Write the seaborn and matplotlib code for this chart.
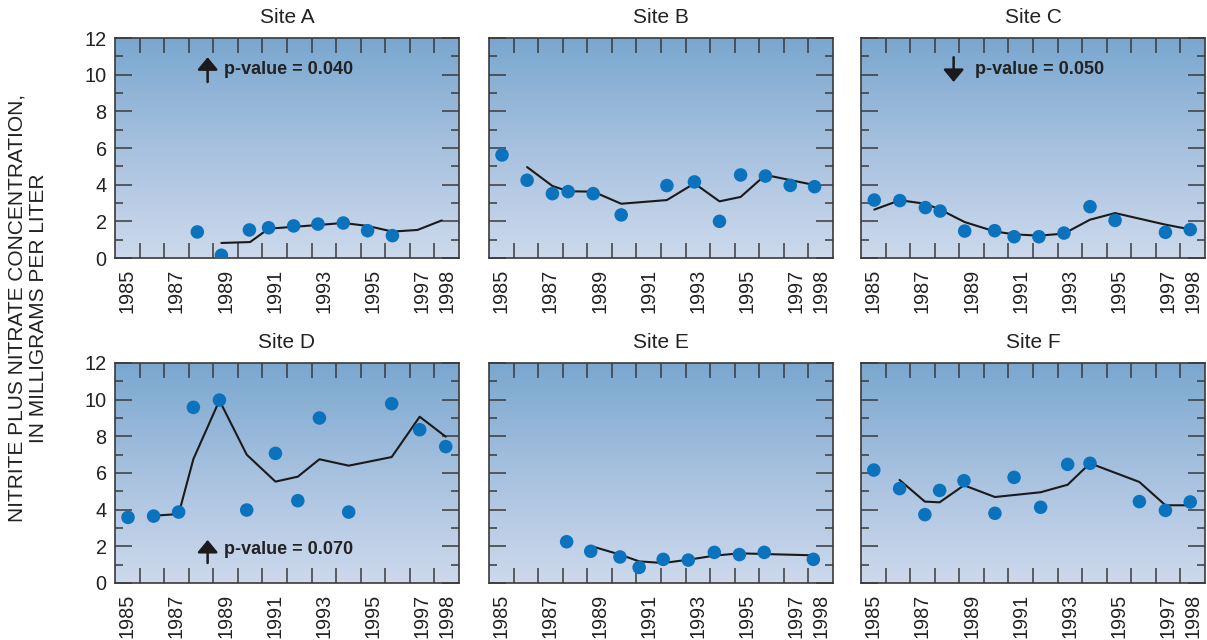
import numpy as np
import pandas as pd
import matplotlib
matplotlib.use("Agg")
import matplotlib.pyplot as plt
import seaborn as sns
from matplotlib.colors import LinearSegmentedColormap

sns.set_style("white")
plt.rcParams['font.family'] = ['Liberation Sans', 'DejaVu Sans']

# ---------------- data ----------------
sites = ["Site A", "Site B", "Site C", "Site D", "Site E", "Site F"]

a_pt_x = [1987.85, 1988.83, 1989.97, 1990.75, 1991.77, 1992.76, 1993.79, 1994.78, 1995.79]
a_pt_y = [1.42, 0.15, 1.53, 1.65, 1.75, 1.85, 1.91, 1.49, 1.22]
a_ln_x = [1988.83, 1990.0, 1990.75, 1991.77, 1992.76, 1993.79, 1994.78, 1995.79, 1996.81, 1997.8]
a_ln_y = [0.82, 0.87, 1.60, 1.70, 1.80, 1.91, 1.75, 1.44, 1.53, 2.05]

b_pt_x = [1985.03, 1986.05, 1987.08, 1987.72, 1988.74, 1989.88, 1991.74, 1992.86, 1993.88, 1994.74, 1995.75, 1996.76, 1997.75]
b_pt_y = [5.62, 4.24, 3.51, 3.62, 3.51, 2.35, 3.95, 4.15, 2.00, 4.53, 4.47, 3.96, 3.89]
b_ln_x = [1986.05, 1987.08, 1987.72, 1988.74, 1989.88, 1991.74, 1992.86, 1993.88, 1994.74, 1995.75, 1996.76, 1997.75]
b_ln_y = [4.96, 3.93, 3.64, 3.62, 2.96, 3.16, 4.07, 3.09, 3.33, 4.53, 4.25, 3.98]

c_pt_x = [1985.04, 1986.08, 1987.12, 1987.72, 1988.72, 1989.94, 1990.73, 1991.74, 1992.76, 1993.82, 1994.84, 1996.89, 1997.9]
c_pt_y = [3.16, 3.13, 2.75, 2.56, 1.47, 1.49, 1.16, 1.16, 1.36, 2.80, 2.05, 1.40, 1.55]
c_ln_x = [1985.04, 1986.08, 1987.12, 1987.72, 1988.72, 1989.94, 1990.73, 1991.74, 1992.76, 1993.82, 1994.84, 1996.89, 1997.9]
c_ln_y = [2.64, 3.15, 2.96, 2.64, 1.96, 1.45, 1.29, 1.22, 1.33, 2.09, 2.45, 1.82, 1.56]

d_pt_x = [1985.03, 1986.07, 1987.09, 1987.69, 1988.75, 1989.86, 1991.03, 1991.94, 1992.82, 1994.01, 1995.76, 1996.9, 1997.96]
d_pt_y = [3.58, 3.65, 3.87, 9.58, 9.98, 3.98, 7.07, 4.49, 9.00, 3.87, 9.78, 8.36, 7.44]
d_ln_x = [1986.07, 1987.09, 1987.69, 1988.75, 1989.86, 1991.03, 1991.94, 1992.82, 1994.01, 1995.76, 1996.9, 1997.96]
d_ln_y = [3.67, 3.76, 6.76, 9.96, 7.00, 5.53, 5.80, 6.75, 6.40, 6.87, 9.07, 7.98]

e_pt_x = [1987.66, 1988.64, 1989.83, 1990.61, 1991.59, 1992.61, 1993.67, 1994.69, 1995.7, 1997.7]
e_pt_y = [2.25, 1.73, 1.42, 0.85, 1.29, 1.25, 1.67, 1.55, 1.67, 1.29]
e_ln_x = [1988.64, 1989.83, 1990.61, 1991.59, 1992.61, 1993.67, 1994.69, 1995.7, 1997.7]
e_ln_y = [2.02, 1.55, 1.18, 1.09, 1.27, 1.49, 1.62, 1.58, 1.51]

f_pt_x = [1985.02, 1986.07, 1987.1, 1987.7, 1988.69, 1989.95, 1990.73, 1991.81, 1992.91, 1993.82, 1995.83, 1996.89, 1997.9]
f_pt_y = [6.16, 5.15, 3.73, 5.05, 5.58, 3.80, 5.76, 4.13, 6.47, 6.53, 4.44, 3.96, 4.42]
f_ln_x = [1986.07, 1987.1, 1987.7, 1988.69, 1989.95, 1991.81, 1992.91, 1993.82, 1995.83, 1996.89, 1997.9]
f_ln_y = [5.62, 4.44, 4.40, 5.33, 4.69, 4.95, 5.36, 6.53, 5.51, 4.24, 4.24]

year_labels = [1985, 1987, 1989, 1991, 1993, 1995, 1997, 1998]
y_ticks = [0, 2, 4, 6, 8, 10, 12]

# trend annotations
trend_site = ["Site A", "Site C", "Site D"]
trend_dir = ["up", "down", "up"]
trend_text = ["p-value = 0.040", "p-value = 0.050", "p-value = 0.070"]

points = [(a_pt_x, a_pt_y), (b_pt_x, b_pt_y), (c_pt_x, c_pt_y),
          (d_pt_x, d_pt_y), (e_pt_x, e_pt_y), (f_pt_x, f_pt_y)]
lines = [(a_ln_x, a_ln_y), (b_ln_x, b_ln_y), (c_ln_x, c_ln_y),
         (d_ln_x, d_ln_y), (e_ln_x, e_ln_y), (f_ln_x, f_ln_y)]

# ---------------- figure ----------------
W, H = 1207, 640
fig = plt.figure(figsize=(W / 100, H / 100), dpi=100)

col_left = [115, 489, 861]
col_w = 344
row_top = [38, 363]
row_h = 220

grad_cmap = LinearSegmentedColormap.from_list(
    "bg", ["#cdd9ec", "#a7c1df", "#7aa7cf"])
grad = np.linspace(0, 1, 256).reshape(-1, 1)

dot_color = "#0b73bd"
frame_color = "#3a3a3a"
text_color = "#222222"
TICK_FS = 14.3

for i, site in enumerate(sites):
    r, c = divmod(i, 3)
    left = col_left[c] / W
    bottom = 1 - (row_top[r] + row_h) / H
    ax = fig.add_axes([left, bottom, col_w / W, row_h / H])

    ax.imshow(grad, cmap=grad_cmap, aspect="auto", origin="lower",
              extent=[0, 1, 0, 1], transform=ax.transAxes, zorder=0)

    lx, ly = lines[i]
    sns.lineplot(x=lx, y=ly, ax=ax, color="#1a1a1a", linewidth=1.5,
                 zorder=3, estimator=None, sort=False)
    px, py = points[i]
    sns.scatterplot(x=px, y=py, ax=ax, color=dot_color, s=95,
                    edgecolor="none", linewidth=0, zorder=4)

    ax.set_xlim(1984.5, 1998.5)
    ax.set_ylim(0, 12)
    ax.set_xticks(year_labels)
    ax.set_xticklabels([str(y) for y in year_labels], rotation=90)
    ax.set_xticks(np.arange(1985.5, 1998.0, 1.0), minor=True)
    ax.set_yticks(y_ticks)
    ax.set_yticks(np.arange(1, 12, 2), minor=True)
    ax.tick_params(axis="x", which="major", length=0, pad=8,
                   labelsize=TICK_FS, colors=text_color)
    ax.tick_params(axis="x", which="minor", direction="in", length=11,
                   width=1.1, top=True, bottom=True, color=frame_color)
    ax.tick_params(axis="y", which="major", direction="in", length=12,
                   width=1.1, left=True, right=True, labelsize=TICK_FS,
                   pad=6, color=frame_color, labelcolor=text_color)
    ax.tick_params(axis="y", which="minor", direction="in", length=6,
                   width=1.1, left=True, right=True, color=frame_color)
    if c != 0:
        ax.set_yticklabels([])
    for sp in ax.spines.values():
        sp.set_color(frame_color)
        sp.set_linewidth(1.2)
        sp.set_visible(True)
    ax.set_xlabel("")
    ax.set_ylabel("")
    ax.set_title(site, fontsize=15, pad=11, color=text_color)

    if site in trend_site:
        k = trend_site.index(site)
        direction = trend_dir[k]
        if site == "Site D":
            y_lo, y_hi, y_txt = 1.09, 2.35, 1.85
        else:
            y_lo, y_hi, y_txt = 9.6, 10.95, 10.3
        x_arrow = 1988.27
        if direction == "up":
            xy, xyt = (x_arrow, y_hi), (x_arrow, y_lo)
        else:
            xy, xyt = (x_arrow, y_lo), (x_arrow, y_hi)
        ax.annotate("", xy=xy, xytext=xyt,
                    arrowprops=dict(arrowstyle="-|>,head_length=0.75,head_width=0.62",
                                    mutation_scale=10,
                                    color="#1a1a1a", lw=1.8, shrinkA=0, shrinkB=0),
                    zorder=5)
        x_txt = 1988.95 if site != "Site C" else 1989.15
        ax.text(x_txt, y_txt, trend_text[k], fontsize=13, fontweight="bold",
                color=text_color, ha="left", va="center", zorder=5)

fig.text(28 / W, 1 - 308 / H,
         "NITRITE PLUS NITRATE CONCENTRATION,\nIN MILLIGRAMS PER LITER",
         rotation=90, ha="center", va="center", fontsize=15,
         color=text_color, multialignment="center", linespacing=1.2)

fig.savefig("out.png", dpi=100)
